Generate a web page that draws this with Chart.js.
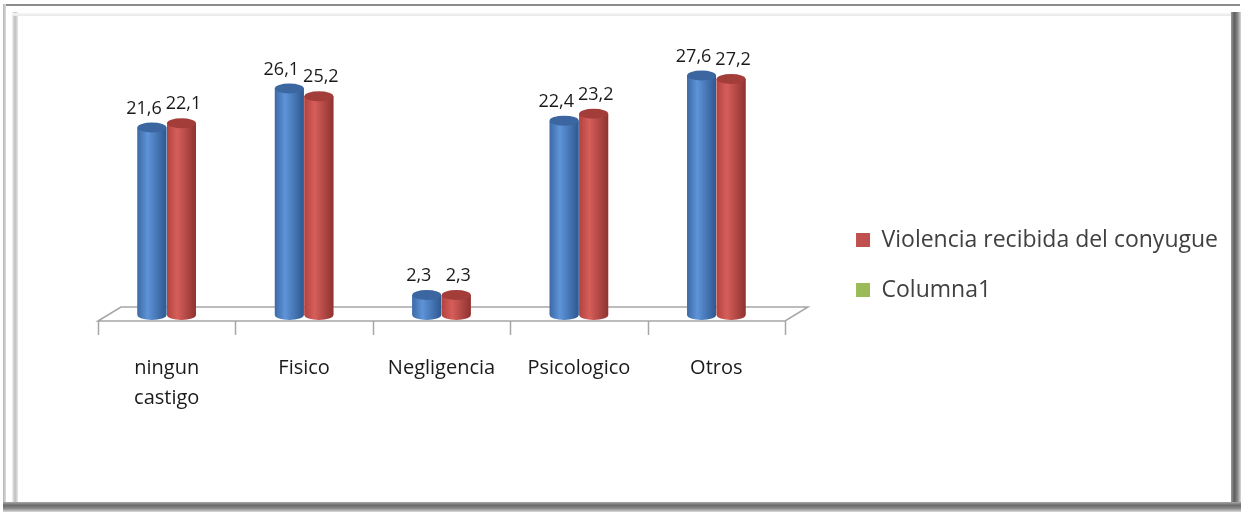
<!DOCTYPE html>
<html>
<head>
<meta charset="utf-8">
<script src="https://cdn.jsdelivr.net/npm/chart.js@4.4.1/dist/chart.umd.min.js"></script>
<style>
  html, body { margin: 0; padding: 0; background: #fff; }
  #wrap { position: relative; width: 1248px; height: 518px; overflow: hidden; }
  /* frame, drawn roughly like the excel bevel */
  #frameTop { position: absolute; left: 3px; top: 4px; width: 1237px; height: 2px; background: #8c8c8c; }
  #frameLeft { position: absolute; left: 3px; top: 4px; width: 3px; height: 506px;
    background: linear-gradient(to right, #b4b4b4, #dcdcdc); }
  #innerLeft { position: absolute; left: 12px; top: 12px; width: 6px; height: 490px;
    background: linear-gradient(to right, #f2f2f2, #bdbdbd, #e8e8e8); }
  #innerTop { position: absolute; left: 12px; top: 13px; width: 1220px; height: 3px;
    background: linear-gradient(to bottom, #f6f6f6, #e9e9e9); }
  #frameRight { position: absolute; left: 1231px; top: 12px; width: 10px; height: 500px;
    background: linear-gradient(to right, #9a9a9a, #5e5e5e, #8a8a8a, #d8d8d8); }
  #frameBottom { position: absolute; left: 3px; top: 502px; width: 1238px; height: 10px;
    background: linear-gradient(to bottom, #a8a8a8, #6a6a6a, #8e8e8e, #dadada); }
  canvas { position: absolute; left: 0; top: 0; }
</style>
</head>
<body>
<div id="wrap">
  <div id="frameTop"></div>
  <div id="frameLeft"></div>
  <div id="innerLeft"></div>
  <div id="innerTop"></div>
  <div id="frameRight"></div>
  <div id="frameBottom"></div>
  <canvas id="chart" width="1248" height="518"></canvas>
</div>
<script>
// data
var categories = [['ningun', 'castigo'], 'Fisico', 'Negligencia', 'Psicologico', 'Otros'];
var serieAzul = [21.6, 26.1, 2.3, 22.4, 27.6];
var serieRoja = [22.1, 25.2, 2.3, 23.2, 27.2];
var columna1 = [];
var legendLabels = ['Violencia recibida del conyugue', 'Columna1'];

var FONT = '"Open Sans", Lato, sans-serif';

// cylinder look on top of the library bars
var cylinderPlugin = {
  id: 'cylinders',
  afterDatasetsDraw: function(chart) {
    var ctx = chart.ctx;
    var looks = [
      { l: '#3c6aa6', m: '#5e94d8', r: '#2e5890', top: '#3b66a0' },
      { l: '#b2433f', m: '#d65e5a', r: '#8e3330', top: '#a33d3a' }
    ];
    for (var d = 0; d < 2; d++) {
      var meta = chart.getDatasetMeta(d);
      var lk = looks[d];
      meta.data.forEach(function(bar) {
        var w = bar.width, x0 = bar.x - w / 2, ry = 5;
        var g = ctx.createLinearGradient(x0, 0, x0 + w, 0);
        g.addColorStop(0, lk.l);
        g.addColorStop(0.35, lk.m);
        g.addColorStop(1, lk.r);
        ctx.save();
        ctx.fillStyle = g;
        ctx.beginPath();
        ctx.moveTo(x0, bar.y);
        ctx.lineTo(x0, bar.base);
        ctx.ellipse(bar.x, bar.base, w / 2, ry, 0, Math.PI, 0, true);
        ctx.lineTo(x0 + w, bar.y);
        ctx.closePath();
        ctx.fill();
        ctx.fillStyle = lk.top;
        ctx.beginPath();
        ctx.ellipse(bar.x, bar.y, w / 2, ry, 0, 0, Math.PI * 2);
        ctx.fill();
        ctx.restore();
      });
    }
  }
};

// floor of the 3d plot and the tick marks under it
var floorPlugin = {
  id: 'floor',
  beforeDatasetsDraw: function(chart) {
    var ctx = chart.ctx, a = chart.chartArea;
    var front = a.bottom + 6, back = a.bottom - 8, dx = 23;
    ctx.save();
    ctx.strokeStyle = '#a6a6a6';
    ctx.lineWidth = 1.5;
    ctx.beginPath();
    ctx.moveTo(a.left, front);
    ctx.lineTo(a.left + dx, back);
    ctx.lineTo(a.right + dx, back);
    ctx.lineTo(a.right, front);
    ctx.closePath();
    ctx.stroke();
    var step = (a.right - a.left) / categories.length;
    ctx.beginPath();
    for (var i = 0; i <= categories.length; i++) {
      var px = Math.round(a.left + i * step) + 0.5;
      ctx.moveTo(px, front);
      ctx.lineTo(px, front + 14);
    }
    ctx.stroke();
    ctx.restore();
  }
};

// value labels with decimal comma, nudged apart like excel does
var valueLabels = {
  id: 'valueLabels',
  afterDraw: function(chart) {
    var ctx = chart.ctx;
    var nudge = [-8, 2];
    ctx.save();
    ctx.font = '18px ' + FONT;
    ctx.fillStyle = '#1a1a1a';
    ctx.textAlign = 'center';
    ctx.textBaseline = 'alphabetic';
    for (var d = 0; d < 2; d++) {
      var ds = chart.data.datasets[d];
      chart.getDatasetMeta(d).data.forEach(function(bar, i) {
        var txt = ds.data[i].toFixed(1).replace('.', ',');
        ctx.fillText(txt, bar.x + nudge[d], bar.y - 14);
      });
    }
    ctx.restore();
  }
};

new Chart(document.getElementById('chart'), {
  type: 'bar',
  data: {
    labels: categories,
    datasets: [
      { label: '', data: serieAzul, backgroundColor: '#4f81bd' },
      { label: legendLabels[0], data: serieRoja, backgroundColor: '#c0504d' },
      { label: legendLabels[1], data: columna1, backgroundColor: '#9bbb59', grouped: false }
    ]
  },
  options: {
    responsive: false,
    animation: false,
    categoryPercentage: 0.43,
    barPercentage: 0.98,
    layout: { padding: { left: 98, top: 20, bottom: 8, right: 20 } },
    scales: {
      x: {
        grid: { display: false },
        border: { display: false },
        ticks: { font: { family: FONT, size: 20, lineHeight: 1.5 }, color: '#1a1a1a', padding: 30, maxRotation: 0 },
        afterFit: function(s) { s.height = 195; }
      },
      y: {
        display: false,
        min: 0,
        max: 34
      },
      // empty space between the plot and the legend
      gap: {
        position: 'right',
        display: false,
        afterFit: function(s) { s.width = 44; }
      }
    },
    plugins: {
      legend: {
        position: 'right',
        align: 'center',
        labels: {
          filter: function(item) { return item.text !== ''; },
          font: { family: FONT, size: 23 },
          color: '#404040',
          boxWidth: 14,
          boxHeight: 14,
          padding: 27
        }
      },
      tooltip: { enabled: false }
    }
  },
  plugins: [floorPlugin, cylinderPlugin, valueLabels]
});
</script>
</body>
</html>
